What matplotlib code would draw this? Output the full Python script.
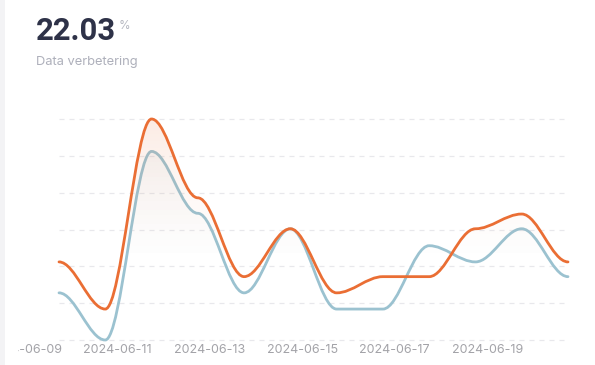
import numpy as np
import matplotlib
matplotlib.use("Agg")
import matplotlib.pyplot as plt
from matplotlib.path import Path
from matplotlib.patches import PathPatch, Rectangle
from matplotlib.transforms import ScaledTranslation

plt.rcParams['font.family'] = ['Inter', 'DejaVu Sans']

# data
dates = ["2024-06-09", "2024-06-11", "2024-06-13", "2024-06-15", "2024-06-17", "2024-06-19"]
orange = [10.6, 4.2, 30.0, 19.3, 8.6, 15.1, 6.4, 8.6, 8.6, 15.1, 17.1, 10.6]
blue = [6.4, 0.0, 25.6, 17.2, 6.4, 15.1, 4.2, 4.2, 12.8, 10.6, 15.1, 8.6]
big_value = "22.03"
unit = "%"
subtitle = "Data verbetering"

W, H = 595, 365
fig = plt.figure(figsize=(W / 100, H / 100), dpi=100)
fig.patch.set_facecolor("white")
fig.add_artist(Rectangle((0, 0), 5 / W, 1, transform=fig.transFigure,
                         facecolor="#f3f3f5", edgecolor="none"))

x0, x1, ytop, ybot = 59, 568, 119, 340
ax = fig.add_axes([x0 / W, (H - ybot) / H, (x1 - x0) / W, (ybot - ytop) / H])
n = len(orange)
for s in ax.spines.values():
    s.set_visible(False)
ax.set_xticks([])
ax.set_yticks([])
for g in np.arange(0, 31, 5):
    ax.axhline(g, color="#e8e8ec", lw=0.9, ls=(0, (4, 4)), zorder=0, clip_on=False)


def smooth_path(vals, k=0.35):
    # each segment: bezier with horizontal handles at both ends
    verts = [(0, vals[0])]
    codes = [Path.MOVETO]
    for i in range(len(vals) - 1):
        verts += [(i + k, vals[i]), (i + 1 - k, vals[i + 1]), (i + 1, vals[i + 1])]
        codes += [Path.CURVE4] * 3
    return verts, codes


def draw_series(vals, color, z):
    verts, codes = smooth_path(vals)
    av = verts + [(n - 1, 0), (0, 0), verts[0]]
    ac = codes + [Path.LINETO, Path.LINETO, Path.CLOSEPOLY]
    area = PathPatch(Path(av, ac), facecolor="none", edgecolor="none")
    ax.add_patch(area)
    rgb = matplotlib.colors.to_rgb(color)
    grad = np.zeros((100, 2, 4))
    grad[..., :3] = rgb
    a = np.clip(np.linspace(1, 0, 100) - 0.35, 0, None) / 0.65
    grad[..., 3] = (0.13 * a ** 1.3)[:, None]
    im = ax.imshow(grad, extent=[0, n - 1, 0, 30], aspect="auto",
                   origin="upper", zorder=z - 1, interpolation="bilinear")
    im.set_clip_path(area)
    line = PathPatch(Path(verts, codes), facecolor="none", edgecolor=color,
                     lw=2.0, zorder=z, clip_on=False, capstyle="round")
    ax.add_patch(line)


draw_series(blue, "#9bc2d0", 3)
draw_series(orange, "#ea6e34", 4)
ax.set_xlim(0, n - 1)
ax.set_ylim(0, 30)

# x labels (time axis, first point is not at midnight)
offset = -0.745
clip = Rectangle((17.5 / W, 0), 1, 1, transform=fig.transFigure)
lab_tr = ax.get_xaxis_transform() + ScaledTranslation(0, -13 / 100, fig.dpi_scale_trans)
for k, d in enumerate(dates):
    t = ax.text(offset + 2 * k, 0, d, ha="center", va="baseline",
                fontsize=9, color="#a3a3a8", transform=lab_tr)
    t.set_clip_path(clip)
    t.set_clip_on(True)

fig.text(36 / W, 1 - 39.5 / H, big_value, fontsize=22.3, fontweight="bold",
         family=["Roboto", "DejaVu Sans"], color="#2e3248", va="baseline", ha="left")
fig.text(119 / W, 1 - 29 / H, unit, fontsize=8.5, color="#b5b7c0", va="baseline", ha="left")
fig.text(36 / W, 1 - 64.5 / H, subtitle, fontsize=9.3, color="#aeb0bb", va="baseline", ha="left")

fig.savefig("out.png", dpi=100, facecolor="white")
